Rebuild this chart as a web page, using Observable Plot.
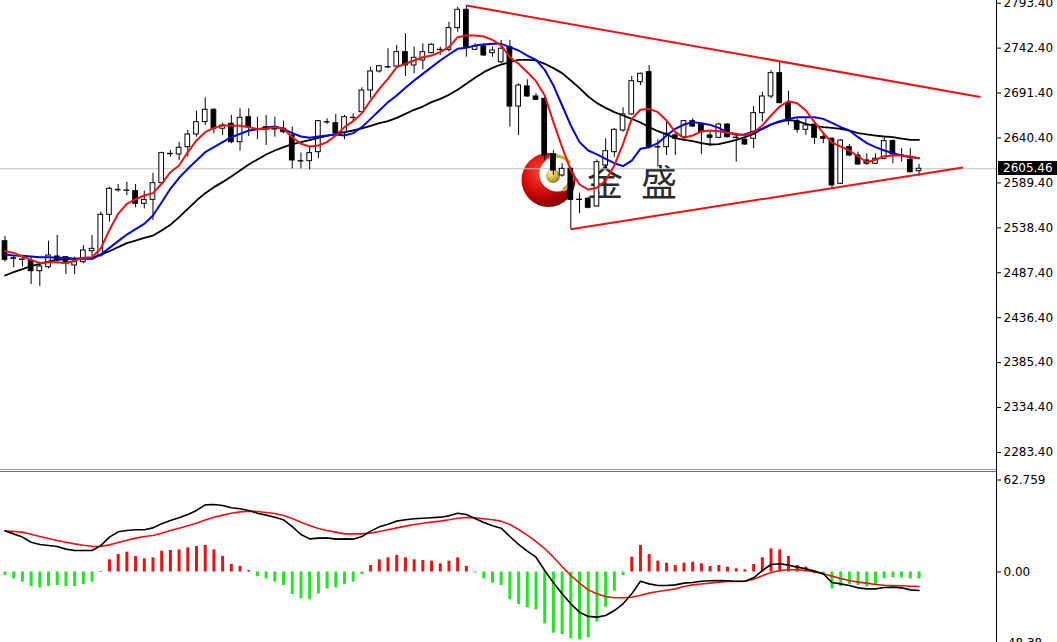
<!DOCTYPE html>
<html><head><meta charset="utf-8">
<script src="https://cdn.jsdelivr.net/npm/d3@7"></script>
<script src="https://cdn.jsdelivr.net/npm/@observablehq/plot@0.6"></script>
<style>
html,body{margin:0;padding:0;background:#fff;}
#wrap{position:relative;width:1057px;height:642px;overflow:hidden;background:#fff;}
#logo{position:absolute;left:0;top:0;}
#main{position:absolute;left:0;top:0;}
#sep{position:absolute;left:0;top:469px;width:997px;height:1px;border-top:1px solid #a0a0a0;border-bottom:1px solid #707070;}
#macd{position:absolute;left:0;top:472px;}
#axisLine{position:absolute;left:996px;top:0;width:1px;height:642px;background:#000;}
#priceTag{position:absolute;left:998px;width:59px;height:14px;background:#000;color:#fff;font:12px "DejaVu Sans",Verdana,sans-serif;line-height:14px;padding-left:5px;box-sizing:border-box;}
</style></head>
<body>
<div id="wrap">
<svg id="logo" width="1057" height="642">
  <defs>
    <radialGradient id="redG" cx="0.38" cy="0.35" r="0.7">
      <stop offset="0" stop-color="#ff4a3a"/>
      <stop offset="0.55" stop-color="#d40808"/>
      <stop offset="1" stop-color="#7a0000"/>
    </radialGradient>
    <radialGradient id="goldG" cx="0.35" cy="0.3" r="0.8">
      <stop offset="0" stop-color="#f6ec9a"/>
      <stop offset="0.6" stop-color="#c9ad3a"/>
      <stop offset="1" stop-color="#8a7010"/>
    </radialGradient>
  </defs>
  <circle cx="548.5" cy="180" r="27" fill="url(#redG)"/>
  <circle cx="557" cy="174" r="17.5" fill="#fff"/>
  <path d="M549 158 A17 17 0 0 1 570 163" fill="none" stroke="#c9ad3a" stroke-width="3"/>
  <path d="M572 172 A17 17 0 0 1 563 190" fill="none" stroke="#c9ad3a" stroke-width="4"/>
  <circle cx="553" cy="176" r="7" fill="url(#goldG)"/>
  <text x="605" y="180" font-family="Noto Sans CJK SC" font-size="36" fill="#2b2b2b" text-anchor="middle" dominant-baseline="central">金</text>
  <text x="659" y="180" font-family="Noto Sans CJK SC" font-size="36" fill="#2b2b2b" text-anchor="middle" dominant-baseline="central">盛</text>
</svg>
<div id="main"></div>
<div id="sep"></div>
<div id="macd"></div>
<div id="axisLine"></div>
<div id="priceTag"></div>
</div>
<script>
// ---- data ----
const opens = [2523.2,2503.8,2502.5,2500.6,2489.2,2493.7,2505.9,2505.1,2495.7,2499.4,2511.9,2507.0,2553.2,2581.6,2580.8,2580.0,2565.7,2570.2,2589.1,2622.4,2621.7,2630.0,2644.4,2658.4,2672.4,2650.9,2656.5,2635.6,2664.0,2650.5,2649.7,2651.0,2650.9,2643.3,2614.1,2614.1,2624.3,2658.4,2657.2,2645.9,2663.3,2669.7,2694.3,2715.9,2720.8,2721.5,2737.8,2722.7,2728.4,2736.7,2740.5,2740.5,2765.1,2785.9,2740.5,2744.3,2736.7,2726.4,2743.5,2676.1,2698.9,2687.5,2684.9,2622.0,2597.8,2605.4,2570.4,2571.4,2562.7,2609.2,2624.3,2648.9,2667.1,2703.8,2715.1,2630.0,2630.0,2643.3,2641.3,2659.5,2655.7,2643.3,2640.6,2655.7,2640.8,2638.4,2639.5,2668.6,2687.5,2714.0,2679.9,2659.5,2649.7,2655.7,2641.3,2639.5,2588.4,2630.0,2620.5,2614.9,2611.1,2616.8,2636.8,2620.6,2615.6,2602.7];
const highs = [2528.6,2507.0,2507.0,2505.1,2499.4,2523.2,2529.7,2505.9,2505.1,2518.4,2529.7,2556.2,2584.5,2587.6,2590.2,2587.6,2580.0,2600.4,2624.3,2626.2,2635.6,2648.9,2670.8,2686.1,2673.6,2657.2,2666.0,2673.6,2673.6,2664.0,2666.0,2664.0,2659.5,2652.7,2623.2,2629.3,2660.3,2662.2,2667.1,2666.0,2667.9,2697.4,2720.8,2722.7,2741.7,2745.4,2758.7,2743.5,2747.3,2747.3,2743.5,2771.8,2788.5,2790.8,2747.3,2747.3,2743.5,2751.1,2751.1,2701.9,2706.5,2690.6,2686.7,2626.0,2611.1,2607.2,2577.8,2573.2,2615.6,2639.5,2650.9,2674.7,2710.2,2714.0,2722.7,2638.4,2658.4,2645.2,2660.3,2662.2,2657.2,2647.0,2657.2,2656.5,2643.3,2645.2,2676.1,2692.4,2717.0,2726.4,2693.5,2662.2,2662.2,2656.5,2645.2,2640.6,2638.4,2633.0,2624.3,2622.4,2622.4,2640.6,2638.4,2628.2,2628.2,2610.3];
const lows = [2499.4,2493.4,2493.8,2474.1,2471.9,2491.9,2497.6,2485.4,2485.4,2497.6,2501.4,2505.1,2544.8,2578.9,2575.1,2561.2,2560.0,2546.7,2587.6,2618.6,2614.9,2618.6,2641.3,2654.6,2645.2,2643.3,2633.8,2625.4,2642.1,2638.4,2631.9,2641.3,2645.2,2605.4,2605.4,2604.3,2616.8,2655.7,2644.4,2638.4,2659.5,2667.9,2684.9,2714.0,2719.0,2719.0,2710.2,2713.3,2717.8,2736.0,2734.1,2737.8,2760.5,2732.1,2739.7,2732.9,2732.1,2724.6,2652.7,2643.3,2686.7,2683.0,2614.9,2598.0,2595.9,2536.2,2554.4,2560.0,2561.8,2605.4,2618.6,2647.0,2666.0,2700.0,2628.2,2607.2,2620.5,2620.5,2637.5,2652.7,2621.7,2630.7,2639.5,2640.6,2613.0,2631.9,2628.2,2658.4,2684.9,2679.2,2654.6,2645.9,2643.3,2633.0,2633.8,2583.9,2587.6,2619.4,2609.2,2609.2,2610.3,2615.6,2611.1,2613.0,2600.4,2596.7];
const closes = [2502.1,2503.2,2502.0,2489.2,2494.5,2507.0,2502.1,2497.6,2499.4,2512.7,2514.6,2553.2,2582.7,2581.0,2580.4,2565.7,2570.2,2589.1,2623.2,2622.0,2629.3,2644.4,2658.4,2672.4,2650.9,2654.6,2635.6,2663.3,2652.7,2649.5,2652.7,2650.0,2647.0,2614.9,2613.7,2623.2,2659.5,2658.0,2645.9,2664.0,2663.0,2694.3,2715.9,2721.9,2720.4,2737.8,2722.7,2731.4,2737.8,2746.2,2740.2,2765.1,2785.9,2743.5,2744.3,2734.1,2739.7,2741.7,2676.1,2700.0,2687.5,2683.8,2620.5,2603.5,2605.4,2570.2,2570.0,2561.2,2613.0,2625.4,2649.7,2667.1,2704.9,2713.3,2630.0,2629.6,2645.2,2639.5,2659.5,2653.4,2647.0,2640.6,2655.7,2641.3,2640.4,2633.0,2668.6,2687.5,2714.0,2679.9,2659.5,2649.7,2654.6,2640.6,2639.5,2586.5,2637.5,2620.5,2610.3,2611.1,2616.8,2636.8,2621.7,2620.2,2601.6,2605.46];
const maFast = [2511.9,2510.0,2505.9,2502.1,2498.3,2499.4,2499.4,2498.3,2501.3,2504.4,2505.1,2515.0,2536.0,2554.3,2565.6,2570.9,2575.1,2577.8,2588.4,2601.6,2609.2,2624.3,2637.6,2647.0,2651.9,2654.6,2654.6,2654.2,2652.7,2650.4,2650.8,2652.7,2650.8,2641.3,2633.8,2630.7,2631.9,2635.7,2643.2,2652.7,2659.5,2668.6,2683.0,2696.2,2707.5,2720.8,2724.6,2728.4,2732.1,2734.0,2737.8,2743.5,2754.8,2756.7,2756.7,2755.6,2751.8,2745.4,2732.1,2724.6,2715.1,2704.9,2688.6,2658.4,2630.0,2603.5,2587.6,2581.9,2583.8,2592.1,2609.2,2633.8,2662.1,2672.4,2673.5,2669.7,2660.3,2647.0,2640.6,2643.2,2647.8,2648.9,2648.1,2646.3,2645.1,2643.2,2647.0,2654.6,2665.9,2676.1,2682.2,2679.9,2671.6,2658.4,2645.9,2635.3,2630.7,2626.2,2619.4,2612.9,2615.6,2619.8,2620.5,2620.5,2619.4,2617.5];
const maMid = [2508.1,2507.0,2506.6,2505.9,2505.1,2505.1,2504.4,2504.4,2503.2,2503.2,2503.2,2508.1,2515.7,2523.3,2530.8,2536.9,2542.9,2552.4,2567.5,2582.7,2595.2,2605.4,2614.9,2624.3,2630.0,2635.7,2641.3,2645.1,2648.9,2650.4,2651.9,2653.4,2650.8,2645.9,2642.1,2640.6,2642.1,2643.2,2644.4,2643.2,2645.9,2652.7,2662.1,2671.6,2681.1,2688.6,2697.3,2705.7,2713.2,2720.8,2728.4,2735.2,2741.6,2742.7,2745.4,2746.5,2747.3,2747.3,2743.5,2739.7,2734.0,2729.1,2717.8,2700.0,2677.3,2654.6,2635.7,2626.2,2621.7,2616.7,2611.8,2608.4,2614.8,2628.1,2630.0,2634.5,2643.2,2650.8,2655.7,2658.4,2657.2,2655.3,2651.9,2646.6,2644.0,2644.4,2647.8,2650.8,2655.7,2659.5,2662.1,2664.0,2664.0,2664.0,2662.1,2657.6,2652.7,2648.9,2641.3,2634.5,2630.0,2626.2,2623.2,2620.5,2618.6,2617.5];
const maSlow = [2484.3,2488.1,2491.5,2494.9,2497.5,2500.2,2502.1,2502.9,2503.2,2504.0,2504.4,2508.1,2511.9,2516.5,2521.0,2524.0,2527.1,2529.7,2535.4,2541.8,2550.5,2560.0,2569.4,2577.8,2584.6,2590.3,2596.7,2603.5,2610.3,2616.0,2621.7,2626.2,2630.0,2633.4,2635.7,2637.9,2640.6,2642.9,2645.1,2647.0,2648.9,2651.2,2654.2,2657.2,2659.5,2663.3,2667.8,2672.4,2676.1,2681.1,2684.8,2689.4,2695.1,2701.9,2708.7,2715.1,2720.0,2723.8,2726.5,2729.1,2729.1,2728.4,2724.6,2719.7,2714.0,2705.7,2697.0,2687.5,2680.0,2674.6,2669.7,2665.9,2662.1,2658.0,2652.7,2648.1,2644.4,2640.2,2638.3,2636.8,2634.5,2633.0,2633.4,2635.7,2638.3,2641.3,2645.1,2650.8,2655.7,2658.7,2661.0,2659.5,2656.5,2654.2,2652.7,2651.9,2650.8,2648.9,2645.9,2644.4,2643.2,2642.1,2641.3,2639.8,2638.3,2638.3];
const dif = [27.9,26.0,23.8,20.3,18.8,18.1,17.4,15.6,14.7,14.7,14.7,18.0,23.8,27.4,28.3,28.8,28.8,30.1,32.9,35.1,37.0,39.2,42.0,45.8,46.0,45.4,43.8,43.1,42.0,40.1,38.8,37.4,35.6,31.0,25.6,22.6,23.1,23.3,22.4,22.6,22.4,24.2,27.9,30.8,32.6,34.7,35.6,36.3,36.7,37.0,37.4,38.3,40.1,39.2,36.5,33.8,31.5,29.9,24.2,18.8,14.2,10.1,1.0,-7.4,-14.9,-21.7,-27.4,-30.3,-30.8,-29.7,-26.3,-21.7,-14.9,-6.3,-8.1,-9.2,-9.2,-8.8,-7.6,-7.2,-6.3,-6.0,-5.8,-6.0,-6.3,-6.3,-4.0,1.0,5.1,5.6,4.7,3.3,2.2,0.6,-1.2,-7.2,-8.1,-9.2,-10.8,-11.5,-11.5,-10.6,-10.3,-10.8,-12.2,-12.6];
const dea = [28.1,27.6,27.2,25.8,24.2,22.9,21.5,20.3,19.2,18.3,17.6,17.4,18.5,20.1,21.7,23.1,24.2,24.9,26.5,28.3,29.9,31.5,33.3,35.4,37.4,38.8,40.1,41.0,41.5,41.3,40.6,39.9,38.5,36.5,34.0,31.7,29.7,28.3,27.2,26.0,26.0,26.0,26.5,27.6,28.8,30.1,31.3,32.4,33.3,34.0,34.7,35.6,36.7,37.2,37.0,36.3,35.6,34.7,32.4,29.0,25.1,20.8,16.0,10.1,3.7,-2.4,-7.6,-12.2,-14.9,-16.7,-17.6,-17.6,-17.2,-15.8,-14.4,-13.3,-12.4,-11.5,-9.9,-8.8,-8.2,-7.6,-6.9,-6.5,-6.5,-6.3,-4.9,-2.6,-0.3,1.0,1.5,1.5,1.0,0.1,-1.2,-2.8,-4.4,-5.8,-6.9,-7.6,-8.5,-9.0,-9.2,-9.4,-9.7,-9.9];
const hist = [-2.4,-4.7,-6.9,-9.9,-10.8,-9.9,-9.2,-9.9,-9.9,-8.5,-6.9,0.4,8.3,11.9,13.5,10.6,9.0,9.7,14.2,14.7,15.1,16.5,17.4,18.1,15.1,10.6,5.1,3.8,1.0,-3.1,-4.7,-6.9,-9.2,-15.3,-18.3,-19.0,-14.9,-11.5,-10.8,-8.5,-6.9,-1.7,4.4,8.3,9.7,11.3,9.7,8.3,7.8,7.4,5.6,7.4,9.7,3.8,-0.8,-4.7,-7.6,-9.2,-19.0,-22.2,-24.4,-25.8,-35.4,-41.7,-42.6,-45.6,-46.3,-44.9,-34.2,-24.0,-13.1,-2.4,10.1,18.1,11.9,7.4,6.0,4.4,6.0,6.7,5.6,3.8,4.4,3.3,2.2,1.5,5.1,9.7,15.8,15.1,10.6,4.4,3.3,-1.3,-2.4,-11.5,-9.9,-8.5,-9.2,-10.3,-8.5,-4.7,-4.0,-4.0,-4.7,-4.7];
const priceTicks = [2793.4,2742.4,2691.4,2640.4,2589.4,2538.4,2487.4,2436.4,2385.4,2334.4,2283.4];
const macdTicks = [62.759, 0, -48.38];
const macdTickLabels = ["62.759", "0.00", "-48.38"];
// trend lines: [bar index, price] endpoints
const trendFromBar = [53, 65];
const trendFromPrice = [2790.8, 2536.8];
const trendToBar = [112.06, 110.05];
const trendToPrice = [2686.9, 2606.9];

// ---- build ----
const idx = d3.range(opens.length);
const candles = idx.map(i => ({i, open: opens[i], high: highs[i], low: lows[i], close: closes[i]}));
const trends = trendFromBar.map((b, k) => ({x1: b, y1: trendFromPrice[k], x2: trendToBar[k], y2: trendToPrice[k]}));
const lastClose = closes[closes.length - 1];

const W = 1057, H1 = 469, H2 = 170;
const xDomain = [-0.517, 113.9];
const font = {background: "transparent", fontFamily: "'DejaVu Sans', Verdana, sans-serif", fontSize: "12px", color: "#000", overflow: "visible"};

const main = Plot.plot({
  width: W, height: H1, marginLeft: 0, marginRight: 61, marginTop: 0, marginBottom: 0,
  style: font,
  x: {domain: xDomain, axis: null},
  y: {domain: [2264.1, 2796.46]},
  marks: [
    Plot.ruleY([lastClose], {stroke: "#c0c0c0", strokeWidth: 1}),
    Plot.axisY({anchor: "right", ticks: priceTicks, tickFormat: d => d.toFixed(2), tickSize: 4, tickPadding: 3, label: null, fontSize: 12}),
    Plot.ruleX(candles, {x: "i", y1: "low", y2: "high", stroke: "#000", strokeWidth: 1}),
    Plot.rect(candles, {x1: d => d.i - 0.27, x2: d => d.i + 0.27, y1: "open", y2: "close",
      fill: d => d.close >= d.open ? "#ffffff" : "#000000", stroke: "#000", strokeWidth: 1}),
    Plot.line(idx, {x: i => i, y: i => maSlow[i], stroke: "#000", strokeWidth: 1.8}),
    Plot.line(idx, {x: i => i, y: i => maMid[i], stroke: "#0000e0", strokeWidth: 2}),
    Plot.line(idx, {x: i => i, y: i => maFast[i], stroke: "#ee1111", strokeWidth: 2}),
    Plot.link(trends, {x1: "x1", y1: "y1", x2: "x2", y2: "y2", stroke: "#ee1111", strokeWidth: 2})
  ]
});
document.getElementById("main").appendChild(main);

const macd = Plot.plot({
  width: W, height: H2, marginLeft: 0, marginRight: 61, marginTop: 0, marginBottom: 0,
  style: font,
  x: {domain: xDomain, axis: null},
  y: {domain: [-48.09, 67.87]},
  marks: [
    Plot.ruleX(idx, {x: i => i, y1: 0, y2: i => hist[i], stroke: i => hist[i] >= 0 ? "#ee1111" : "#22e622", strokeWidth: 3}),
    Plot.line(idx, {x: i => i, y: i => dea[i], stroke: "#ee1111", strokeWidth: 1.6}),
    Plot.line(idx, {x: i => i, y: i => dif[i], stroke: "#000", strokeWidth: 1.6}),
    Plot.axisY({anchor: "right", ticks: macdTicks, tickFormat: d => macdTickLabels[macdTicks.indexOf(d)], tickSize: 4, tickPadding: 3, label: null, fontSize: 12})
  ]
});
document.getElementById("macd").appendChild(macd);

const tag = document.getElementById("priceTag");
const yPx = main.scale("y").apply(lastClose);
tag.style.top = (yPx - 7) + "px";
tag.textContent = lastClose.toFixed(2);
</script>
</body></html>
